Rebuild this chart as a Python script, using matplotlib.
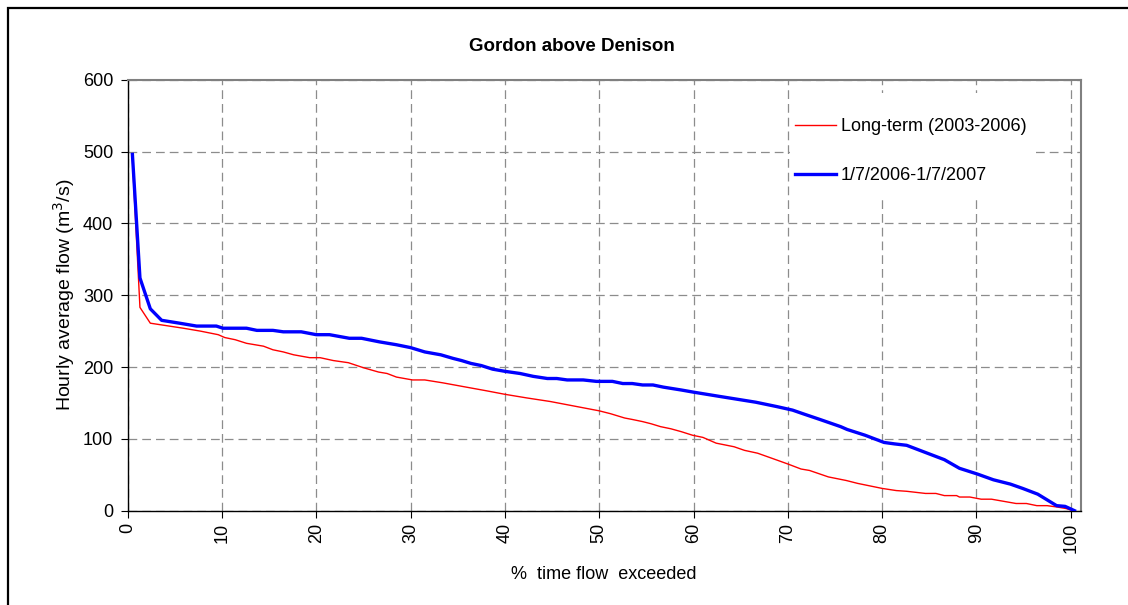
#!/usr/bin/env python3
"""
Flow duration curves for the Gordon River above Denison.

Compares the long-term hourly flow duration curve (2003-2006) with the
curve for the 2006/07 year.
"""

import matplotlib
matplotlib.use('Agg')  # Non-interactive backend
import matplotlib.pyplot as plt
from matplotlib.patches import Rectangle

plt.rcParams['font.family'] = ['Liberation Sans', 'DejaVu Sans']

# % of time flow exceeded / hourly average flow (m3/s)
longterm_pct = [0.5, 1.3, 2.4, 5.9, 7.7, 9.6, 10.3, 11.4, 12.6, 14.4, 15.4, 16.5,
                17.6, 19.3, 20.4, 21.8, 23.4, 25.0, 26.6, 27.5, 28.5, 30.2, 31.5,
                33.4, 35.9, 38.0, 40.0, 42.3, 44.8, 47.2, 50.0, 51.2, 52.7, 53.5,
                54.6, 55.5, 56.5, 57.6, 58.7, 59.9, 61.0, 62.4, 64.3, 65.4, 66.8,
                68.3, 70.0, 71.4, 72.3, 74.3, 76.2, 77.4, 80.0, 81.5, 82.6, 84.6,
                85.7, 86.6, 87.9, 88.2, 89.3, 90.5, 91.6, 94.2, 95.3, 96.4, 97.5,
                98.6, 99.5, 100.0]
longterm_flow = [490, 283, 261, 254, 250, 245, 241, 238, 233, 229, 224, 221,
                 217, 213, 213, 209, 206, 199, 193, 191, 186, 182, 182,
                 178, 172, 167, 162, 157, 152, 146, 139, 135, 129, 127,
                 124, 121, 117, 114, 110, 105, 102, 94, 89, 84, 80,
                 73, 65, 58, 56, 47, 42, 38, 31, 28, 27, 24,
                 24, 21, 21, 19, 19, 16, 16, 10, 10, 7, 7,
                 5, 3, 1]

year_pct = [0.5, 1.3, 2.4, 3.6, 5.5, 7.3, 9.4, 10.1, 12.6, 13.7, 15.4, 16.5,
            18.4, 20.0, 21.4, 23.5, 24.8, 26.7, 28.5, 30.0, 31.5, 33.2, 34.5,
            35.4, 36.4, 37.5, 38.7, 40.0, 41.6, 43.0, 44.5, 45.5, 46.6, 48.3,
            49.7, 51.4, 52.5, 53.5, 54.6, 55.7, 56.8, 58.7, 60.0, 62.8, 66.6,
            68.8, 70.5, 71.6, 73.4, 75.6, 76.3, 78.2, 80.2, 81.3, 82.6, 84.6,
            86.6, 88.2, 90.1, 91.8, 93.6, 94.9, 96.5, 98.5, 99.4, 100.4]
year_flow = [496, 324, 281, 265, 261, 257, 257, 254, 254, 251, 251, 249,
             249, 245, 245, 240, 240, 235, 231, 227, 221, 217, 212,
             209, 205, 202, 197, 194, 191, 187, 184, 184, 182, 182,
             180, 180, 177, 177, 175, 175, 172, 168, 165, 159, 151,
             145, 140, 135, 127, 117, 113, 105, 95, 93, 91, 81,
             71, 59, 51, 43, 37, 31, 23, 7, 6, 0]

x_ticks = list(range(0, 101, 10))
y_ticks = list(range(0, 601, 100))

labels = ['Long-term (2003-2006)', '1/7/2006-1/7/2007']


def main():
    fig = plt.figure(figsize=(11.28, 6.05), dpi=100)
    ax = fig.add_axes([0.1132, 0.1559, 0.8449, 0.7124])

    # outer chart frame
    fig.patches.append(Rectangle((8 / 1128, -0.05), 1.05, 1 - 8 / 605 + 0.05,
                                 transform=fig.transFigure, fill=False,
                                 edgecolor='black', linewidth=1.6))

    ax.plot(longterm_pct, longterm_flow, color='#ff0000', linewidth=1.0,
            label=labels[0], zorder=3)
    ax.plot(year_pct, year_flow, color='#0000ff', linewidth=2.4,
            label=labels[1], zorder=4)

    ax.set_xlim(0, 101.06)
    ax.set_ylim(0, 600)
    ax.set_xticks(x_ticks)
    ax.set_yticks(y_ticks)
    ax.tick_params(axis='x', labelrotation=90, labelsize=13, length=5, pad=4)
    ax.tick_params(axis='y', labelsize=13, length=5, pad=5.5)

    ax.grid(True, color='#8c8c8c', linestyle=(0, (7, 4)), linewidth=0.9)
    ax.set_axisbelow(True)

    for side in ('top', 'right'):
        ax.spines[side].set_color('#808080')
        ax.spines[side].set_linewidth(1.5)
    for side in ('left', 'bottom'):
        ax.spines[side].set_color('black')
        ax.spines[side].set_linewidth(1.0)

    ax.set_title('Gordon above Denison', fontsize=13.5, fontweight='bold',
                 x=0.466, pad=20.5)
    ax.set_xlabel('%  time flow  exceeded', fontsize=13, labelpad=9)
    ax.set_ylabel('Hourly average flow (m$^3$/s)', fontsize=14, labelpad=4.2)

    # white legend background, sits over the grid but under the curves
    ax.add_patch(Rectangle((0.695, 0.721), 0.255, 0.248, transform=ax.transAxes,
                           facecolor='white', edgecolor='none', zorder=1))
    ax.legend(loc='upper left', bbox_to_anchor=(0.700, 0.910),
              fontsize=13, frameon=False, borderpad=0, borderaxespad=0,
              handlelength=2.26, handletextpad=0.29, labelspacing=1.75)

    fig.savefig('out.png', dpi=100)
    plt.close(fig)


if __name__ == "__main__":
    main()
